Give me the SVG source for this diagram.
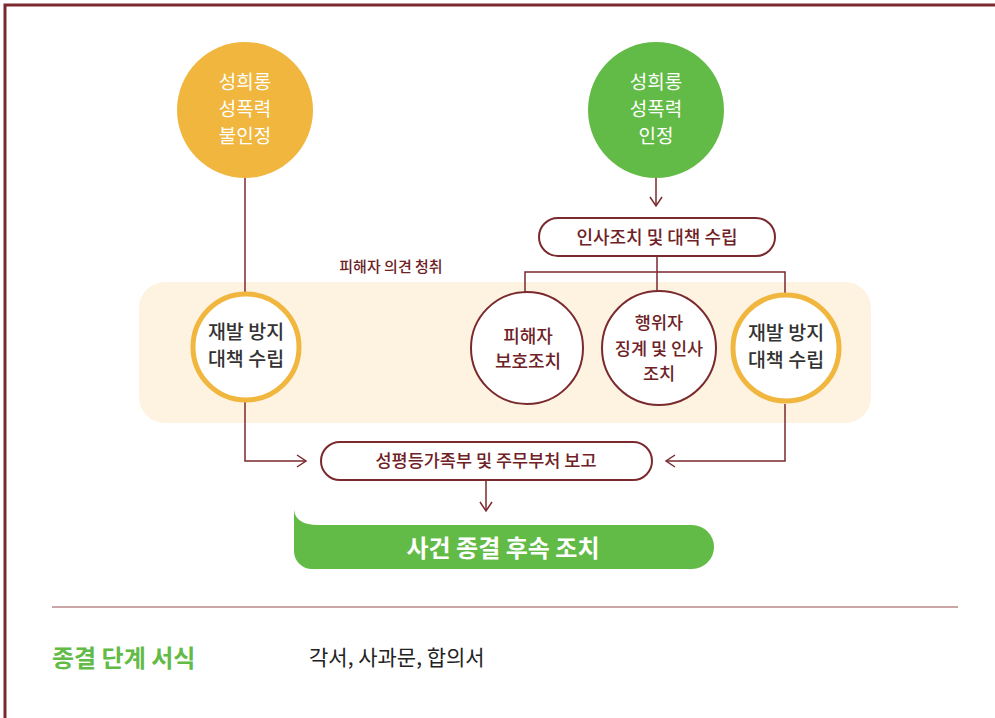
<svg xmlns="http://www.w3.org/2000/svg" width="995" height="718" viewBox="0 0 995 718">
<defs>
<style>
text{font-family:"Noto Sans CJK KR","Noto Sans",sans-serif;text-anchor:middle}
.w{fill:#fff;font-size:19px}
.d{fill:#333;font-size:19.5px;font-weight:500}
.r{fill:#6e2226;font-size:18px;font-weight:500}
.ln{fill:none;stroke:#7a2a2e;stroke-width:1.5}
.pill{fill:#fff;stroke:#7a2a2e;stroke-width:2}
.ring{fill:#fff;stroke:#f0b63e;stroke-width:5}
.rc{fill:#fff;stroke:#7a2a2e;stroke-width:2}
</style>
<marker id="ar" markerWidth="14" markerHeight="14" refX="11" refY="7" orient="auto" markerUnits="userSpaceOnUse">
<path d="M2,1 L11,7 L2,13" fill="none" stroke="#7a2a2e" stroke-width="1.5"/>
</marker>
</defs>
<rect width="995" height="718" fill="#fff"/>
<path d="M5,718 V5 H995" fill="none" stroke="#7a2a2e" stroke-width="3"/>
<rect x="139" y="282" width="732" height="141" rx="26" fill="#fdf3e0"/>
<g id="connectors">
<path class="ln" d="M245,178 V292"/>
<path class="ln" d="M245,401 V461 H306" marker-end="url(#ar)"/>
<path class="ln" d="M656,178 V206" marker-end="url(#ar)"/>
<path class="ln" d="M657,256 V272 M525,292 V272 H785 V293 M657,272 V291"/>
<path class="ln" d="M785,404 V461 H666" marker-end="url(#ar)"/>
<path class="ln" d="M486,480 V511" marker-end="url(#ar)"/>
<text x="391" y="272" class="r" style="font-size:15px">피해자 의견 청취</text>
</g>
<g id="n1">
<circle cx="245" cy="110" r="68" fill="#f0b63e"/>
<text class="w"><tspan x="245" y="89">성희롱</tspan><tspan x="245" y="116">성폭력</tspan><tspan x="245" y="143">불인정</tspan></text>
</g>
<g id="n2">
<circle cx="656" cy="110" r="68" fill="#62bb46"/>
<text class="w"><tspan x="656" y="89">성희롱</tspan><tspan x="656" y="116">성폭력</tspan><tspan x="656" y="143">인정</tspan></text>
</g>
<g id="n3">
<rect class="pill" x="539" y="218" width="236" height="38" rx="19"/>
<text x="657" y="244" class="r">인사조치 및 대책 수립</text>
</g>
<g id="n4">
<circle class="ring" cx="246" cy="347" r="53"/>
<text class="d"><tspan x="246" y="339">재발 방지</tspan><tspan x="246" y="366">대책 수립</tspan></text>
</g>
<g id="n5">
<circle class="rc" cx="527" cy="348" r="56"/>
<text class="r"><tspan x="528" y="343">피해자</tspan><tspan x="528" y="368">보호조치</tspan></text>
</g>
<g id="n6">
<circle class="rc" cx="659" cy="348" r="57"/>
<text class="r" style="font-size:17.5px"><tspan x="659" y="329">행위자</tspan><tspan x="659" y="355">징계 및 인사</tspan><tspan x="659" y="380">조치</tspan></text>
</g>
<g id="n7">
<circle class="ring" cx="786" cy="348" r="53"/>
<text class="d"><tspan x="786" y="340">재발 방지</tspan><tspan x="786" y="367">대책 수립</tspan></text>
</g>
<g id="n8">
<rect class="pill" x="321" y="442" width="331" height="38" rx="19"/>
<text x="486" y="467" class="r" style="font-size:17.5px">성평등가족부 및 주무부처 보고</text>
</g>
<g id="n9">
<path d="M294,510 Q296,525 318,525 H692 A22,22 0 0 1 714,547 A22,22 0 0 1 692,569 H312 A18,18 0 0 1 294,551 Z" fill="#62bb46"/>
<text x="503" y="557" style="fill:#fff;font-size:24px;font-weight:700">사건 종결 후속 조치</text>
</g>
<line x1="52" y1="607" x2="958" y2="607" stroke="#b98a88" stroke-width="1.5"/>
<text x="52" y="667" style="text-anchor:start;fill:#62bb46;font-size:24px;font-weight:700">종결 단계 서식</text>
<text x="309" y="665" style="text-anchor:start;fill:#222;font-size:21px">각서, 사과문, 합의서</text>
</svg>
